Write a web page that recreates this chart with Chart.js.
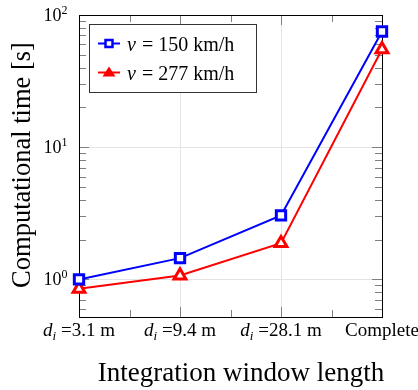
<!DOCTYPE html>
<html><head><meta charset="utf-8">
<script src="https://cdn.jsdelivr.net/npm/chart.js@4/dist/chart.umd.min.js"></script>
<style>html,body{margin:0;padding:0;background:#fff}#wrap{width:418px;height:390px}</style>
</head><body><div id="wrap"><canvas id="c" width="418" height="390"></canvas></div>
<script>
// ---- data ----
const categories = ['d_i =3.1 m', 'd_i =9.4 m', 'd_i =28.1 m', 'Complete'];
const speed150 = [1.0, 1.45, 3.05, 75];
const speed277 = [0.85, 1.07, 1.88, 55];
const seriesLabels = ['= 150 km/h', '= 277 km/h'];
const yTickValues = [1, 10, 100];
const xTitle = 'Integration window length';
const yTitle = 'Computational time [s]';

const SERIF = '"Liberation Serif", "Times New Roman", serif';

function toPoints(arr) { return arr.map((v, i) => ({ x: i, y: v })); }

const decor = {
  id: 'decor',
  beforeDatasetsDraw(chart) {
    const { ctx, chartArea: a, scales: { x, y } } = chart;
    ctx.save();
    ctx.strokeStyle = '#808080';
    ctx.lineWidth = 1;
    for (let k = 0; k <= categories.length - 1 + 1e-9; k += 0.5) {
      const px = Math.round(x.getPixelForValue(k)) + 0.5;
      const len = Number.isInteger(k) ? 10 : 7;
      ctx.beginPath();
      ctx.moveTo(px, a.bottom); ctx.lineTo(px, a.bottom - len);
      ctx.moveTo(px, a.top); ctx.lineTo(px, a.top + len);
      ctx.stroke();
    }
    for (let d = 0.1; d <= 100; d *= 10) {
      for (let m = 1; m <= 9; m++) {
        const v = m * d;
        if (v < y.min - 1e-9 || v > y.max + 1e-9) continue;
        const py = Math.round(y.getPixelForValue(v)) + 0.5;
        const len = m === 1 ? 10 : 7;
        ctx.beginPath();
        ctx.moveTo(a.left, py); ctx.lineTo(a.left + len, py);
        ctx.moveTo(a.right, py); ctx.lineTo(a.right - len, py);
        ctx.stroke();
      }
    }
    ctx.strokeStyle = '#000';
    ctx.strokeRect(Math.round(a.left) + 0.5, Math.round(a.top) + 0.5,
      Math.round(a.right - a.left), Math.round(a.bottom - a.top));
    ctx.restore();
  },
  afterDraw(chart) {
    const { ctx, chartArea: a, scales: { x, y } } = chart;
    ctx.save();
    ctx.fillStyle = '#000';
    ctx.textBaseline = 'alphabetic';
    yTickValues.forEach(v => {
      const py = y.getPixelForValue(v);
      const e = String(Math.round(Math.log10(v)));
      ctx.font = '12px ' + SERIF;
      ctx.textAlign = 'right';
      ctx.fillText(e, 67.5, py - 1);
      const ew = ctx.measureText(e).width;
      ctx.font = '18px ' + SERIF;
      ctx.fillText('10', 67.5 - ew, py + 6);
    });
    categories.forEach((lab, i) => {
      const px = x.getPixelForValue(i);
      let parts;
      if (lab.startsWith('d_i')) {
        parts = [
          { t: 'd', f: 'italic 19px ' + SERIF, dy: 0 },
          { t: 'i', f: 'italic 13px ' + SERIF, dy: 4 },
          { t: lab.slice(3), f: '19px ' + SERIF, dy: 0 }
        ];
      } else {
        parts = [{ t: lab, f: '19px ' + SERIF, dy: 0 }];
      }
      let w = 0;
      parts.forEach(p => { ctx.font = p.f; p.w = ctx.measureText(p.t).width; w += p.w; });
      let cx = px - w / 2;
      ctx.textAlign = 'left';
      parts.forEach(p => { ctx.font = p.f; ctx.fillText(p.t, cx, 336 + p.dy); cx += p.w; });
    });
    ctx.font = '27px ' + SERIF;
    ctx.textAlign = 'center';
    ctx.fillText(xTitle, 241, 381);
    ctx.save();
    ctx.translate(30, 165);
    ctx.rotate(-Math.PI / 2);
    ctx.font = '26.5px ' + SERIF;
    ctx.fillText(yTitle, 0, 0);
    ctx.restore();
    const L = { x: 89, y: 24, w: 167, h: 68 };
    ctx.fillStyle = '#fff';
    ctx.fillRect(L.x, L.y, L.w, L.h);
    ctx.strokeStyle = '#333';
    ctx.lineWidth = 1;
    ctx.strokeRect(L.x + 0.5, L.y + 0.5, L.w, L.h);
    chart.data.datasets.forEach((ds, i) => {
      const ry = [43.5, 72.5][i];
      ctx.strokeStyle = ds.borderColor;
      ctx.lineWidth = 2;
      ctx.beginPath(); ctx.moveTo(98, ry); ctx.lineTo(120, ry); ctx.stroke();
      ctx.lineWidth = 2.5;
      ctx.fillStyle = ds.pointBackgroundColor;
      ctx.strokeStyle = ds.borderColor;
      if (ds.pointStyle === 'rect') {
        ctx.beginPath(); ctx.rect(105.5, ry - 3.5, 7, 7); ctx.fill(); ctx.stroke();
      } else {
        ctx.fillStyle = ds.borderColor;
        ctx.beginPath();
        ctx.moveTo(109, ry - 6); ctx.lineTo(115.5, ry + 4); ctx.lineTo(102.5, ry + 4);
        ctx.closePath(); ctx.fill();
      }
      ctx.fillStyle = '#000';
      ctx.textAlign = 'left';
      ctx.font = 'italic 20px ' + SERIF;
      ctx.fillText('v', 127, ry + 7);
      const vw = ctx.measureText('v ').width;
      ctx.font = '20px ' + SERIF;
      ctx.fillText(seriesLabels[i], 127 + vw + 1, ry + 7);
    });
    ctx.restore();
  }
};

const isDecade = v => Math.abs(Math.log10(v) - Math.round(Math.log10(v))) < 1e-6;

new Chart(document.getElementById('c'), {
  type: 'line',
  data: {
    datasets: [
      {
        label: 'v ' + seriesLabels[0], data: toPoints(speed150),
        borderColor: '#0000ff', borderWidth: 2, pointStyle: 'rect',
        pointRadius: 6.6, pointBorderWidth: 3, pointBackgroundColor: '#ffffff',
        pointBorderColor: '#0000ff', clip: false, tension: 0
      },
      {
        label: 'v ' + seriesLabels[1], data: toPoints(speed277),
        borderColor: '#ff0000', borderWidth: 2, pointStyle: 'triangle',
        pointRadius: 6.8, pointBorderWidth: 3, pointBackgroundColor: '#ffffff',
        pointBorderColor: '#ff0000', clip: false, tension: 0
      }
    ]
  },
  options: {
    responsive: false, animation: false, devicePixelRatio: 1,
    layout: { padding: { top: 15, right: 36, left: 0, bottom: 0 } },
    plugins: { legend: { display: false }, tooltip: { enabled: false } },
    scales: {
      x: {
        type: 'linear', min: 0, max: categories.length - 1,
        ticks: { display: false, stepSize: 1 },
        grid: { color: '#e4e4e4', drawTicks: false },
        border: { display: false },
        afterFit(s) { s.height = 73; }
      },
      y: {
        type: 'logarithmic', min: 0.52, max: 100,
        ticks: { display: false },
        grid: { color: c => isDecade(c.tick.value) ? '#e4e4e4' : 'rgba(0,0,0,0)', drawTicks: false },
        border: { display: false },
        afterFit(s) { s.width = 79; }
      }
    }
  },
  plugins: [decor]
});
</script>
</body></html>
